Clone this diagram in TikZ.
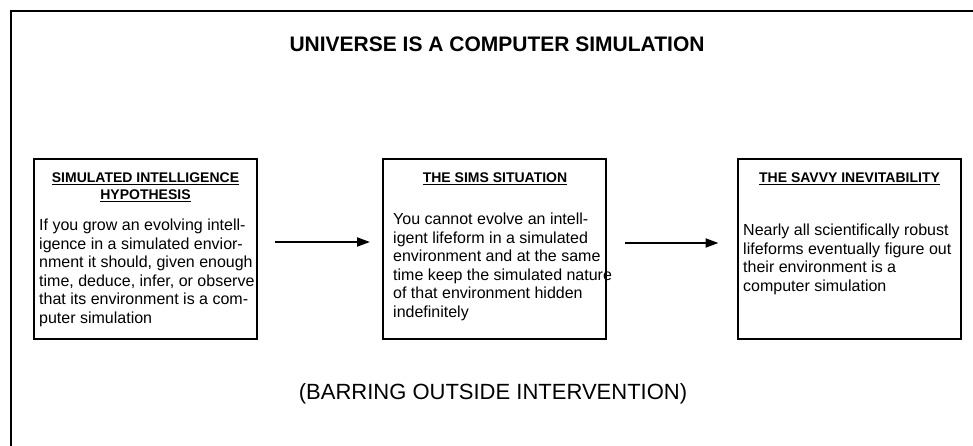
\documentclass[tikz,border=0pt]{standalone}
\usepackage{fontspec}
\setmainfont{Liberation Sans}
\usetikzlibrary{arrows.meta}

\begin{document}
\begin{tikzpicture}
        [
            x=1pt, y=-1pt,
            panel/.style = {draw, line width=2pt, minimum width=223pt, minimum height=180pt, inner sep=0pt},
            heading/.style = {anchor=north, align=center, inner sep=0pt, font=\fontsize{14}{16.5}\selectfont\bfseries},
            body/.style = {anchor=north west, align=left, inner sep=0pt, font=\fontsize{16}{18.5}\selectfont},
            arrow/.style = {-{Triangle[length=13pt, width=9pt]}, line width=2pt},
        ]
        \useasboundingbox (0,0) rectangle (973,446);
        \draw[line width=2.5pt] (11,446) -- (11,11) -- (973,11);
        \node[font=\fontsize{21}{25}\selectfont\bfseries] (title) at (497,44) {UNIVERSE IS A COMPUTER SIMULATION};
        \node [panel] (sih) at (145.5,249) {};
        \node [panel] (sims) at (494.5,249) {};
        \node [panel] (savvy) at (849,249) {};
        \node [heading] (sihhead) at (145.5,173) {\underline{SIMULATED INTELLIGENCE}\\\underline{HYPOTHESIS}};
        \node [heading] (simshead) at (495,173) {\underline{THE SIMS SITUATION}};
        \node [heading] (savvyhead) at (849.5,173) {\underline{THE SAVVY INEVITABILITY}};
        \node [body] (sihtext) at (39,219) {If you grow an evolving intell-\\igence in a simulated envior-\\nment it should, given enough\\time, deduce, infer, or observe\\that its environment is a com-\\puter simulation};
        \node [body] (simstext) at (393,213) {You cannot evolve an intell-\\igent lifeform in a simulated\\environment and at the same\\time keep the simulated nature\\of that environment hidden\\indefinitely};
        \node [body] (savvytext) at (743,224) {Nearly all scientifically robust\\lifeforms eventually figure out\\their environment is a\\computer simulation};
        \draw[arrow, shorten <=17pt, shorten >=12pt] ([yshift=7pt]sih.east) -- ([yshift=7pt]sims.west);
        \draw[arrow, shorten <=18pt, shorten >=18pt] ([yshift=6pt]sims.east) -- ([yshift=6pt]savvy.west);
        \node[font=\fontsize{22}{26}\selectfont] (note) at (493,394) {(BARRING OUTSIDE INTERVENTION)};
    \end{tikzpicture}
\end{document}
